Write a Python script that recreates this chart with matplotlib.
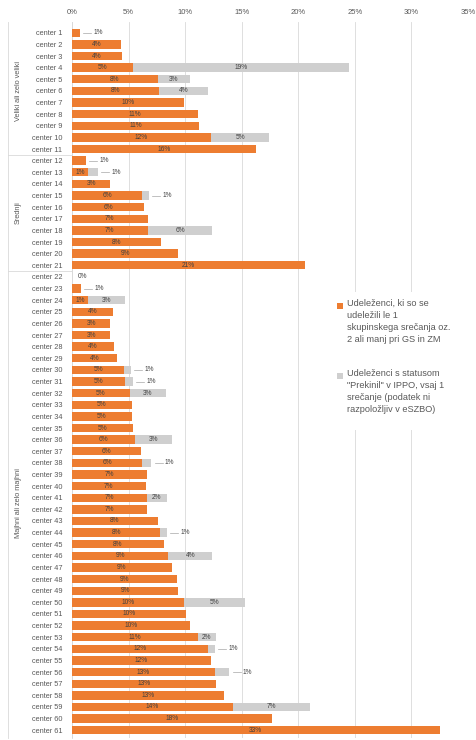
import numpy as np
import matplotlib
matplotlib.use('Agg')
import matplotlib.pyplot as plt
from matplotlib.patches import Rectangle

plt.rcParams['font.family'] = ['Liberation Sans', 'DejaVu Sans']

# podatki (odstotki), vrstni red od zgoraj navzdol
centers = [f'center {i}' for i in range(1, 62)]

udelezenci_le1 = [
    0.7, 4.3, 4.4, 5.4, 7.6, 7.7, 9.9, 11.1, 11.2, 12.3, 16.3,          # 1-11
    1.2, 1.4, 3.4, 6.2, 6.4, 6.7, 6.7, 7.9, 9.4, 20.6,                  # 12-21
    0.0, 0.8, 1.4, 3.6, 3.4, 3.4, 3.7, 4.0, 4.6, 4.7,                   # 22-31
    5.1, 5.3, 5.3, 5.4, 5.6, 6.1, 6.2, 6.6, 6.5, 6.6,                   # 32-41
    6.6, 7.6, 7.8, 8.1, 8.5, 8.8, 9.3, 9.4, 9.9, 10.1,                  # 42-51
    10.4, 11.1, 12.0, 12.3, 12.6, 12.7, 13.4, 14.2, 17.7, 32.5,         # 52-61
]

prekinil = [
    0, 0, 0, 19.1, 2.8, 4.3, 0, 0, 0, 5.1, 0,
    0, 0.9, 0, 0.6, 0, 0, 5.7, 0, 0, 0,
    0, 0, 3.3, 0, 0, 0, 0, 0, 0.6, 0.7,
    3.2, 0, 0, 0, 3.2, 0, 0.8, 0, 0, 1.8,
    0, 0, 0.6, 0, 3.9, 0, 0, 0, 5.4, 0,
    0, 1.6, 0.6, 0, 1.3, 0, 0, 6.8, 0, 0,
]

skupine = ['Veliki ali zelo veliki', 'Srednji', 'Majhni ali zelo majhni']
skupine_meje = [(0, 10), (11, 20), (21, 60)]

legend_labels = [
    'Udeleženci, ki so se\nudeležili le 1\nskupinskega srečanja oz.\n2 ali manj pri GS in ZM',
    'Udeleženci s statusom\n"Prekinil" v IPPO, vsaj 1\nsrečanje (podatek ni\nrazpoložljiv v eSZBO)',
]

ORANGE = '#ED7D31'
GRAY = '#CFCFCF'
TXT = '#595959'
W, H = 476, 740


def pct(v):
    return f'{int(v + 0.5)}%'


fig = plt.figure(figsize=(W / 100, H / 100), dpi=100)
ax = fig.add_axes([72 / W, 2 / H, (468 - 72) / W, (738 - 22) / H])

y = np.arange(len(centers))
a = np.array(udelezenci_le1)
b = np.array(prekinil)

ax.barh(y, a, height=0.72, color=ORANGE, zorder=3)
ax.barh(y, b, left=a, height=0.72, color=GRAY, zorder=3)

# oznake vrednosti
for i in range(len(centers)):
    if a[i] >= 1.3:
        ax.text(a[i] / 2, i, pct(a[i]), ha='center', va='center',
                fontsize=4.8, color='#404040', zorder=4)
    elif a[i] == 0:
        ax.text(0.5, i, pct(a[i]), ha='left', va='center',
                fontsize=4.8, color='#404040', zorder=4)
    else:
        ax.plot([a[i] + 0.3, a[i] + 1.0], [i, i], color='#A6A6A6', lw=0.5, zorder=4)
        ax.text(a[i] + 1.2, i, pct(a[i]), ha='left', va='center',
                fontsize=4.8, color='#404040', zorder=4)
    if b[i] > 0:
        end = a[i] + b[i]
        if b[i] >= 1.5:
            ax.text(a[i] + b[i] / 2, i, pct(b[i]), ha='center', va='center',
                    fontsize=4.8, color='#404040', zorder=4)
        else:
            ax.plot([end + 0.3, end + 1.0], [i, i], color='#A6A6A6', lw=0.5, zorder=4)
            ax.text(end + 1.2, i, pct(b[i]), ha='left', va='center',
                    fontsize=4.8, color='#404040', zorder=4)

ax.set_xlim(0, 35)
ax.set_ylim(60.67, -0.93)
ax.set_xticks(np.arange(0, 36, 5))
ax.set_xticklabels([f'{t}%' for t in range(0, 36, 5)])
ax.xaxis.tick_top()
ax.tick_params(axis='x', length=0, labelsize=5.5, labelcolor=TXT, pad=4)
ax.set_yticks(y)
ax.set_yticklabels(centers)
ax.tick_params(axis='y', length=0, labelsize=5.3, labelcolor=TXT, pad=7)
ax.grid(axis='x', color='#D9D9D9', lw=0.6, zorder=0)
for s in ['top', 'right', 'bottom']:
    ax.spines[s].set_visible(False)
ax.spines['left'].set_color('#D9D9D9')
ax.spines['left'].set_linewidth(0.6)

# skupine na levi strani
x_line = (8 - 72) / 396
ax.plot([x_line, x_line], [-0.93, 60.67], color='#D9D9D9', lw=0.6,
        transform=ax.get_yaxis_transform(), clip_on=False)
for (lo, hi), name in zip(skupine_meje, skupine):
    ax.text((18 - 72) / 396, (lo + hi) / 2, name, rotation=90, ha='center', va='center',
            fontsize=5.3, color=TXT, transform=ax.get_yaxis_transform())
    if lo > 0:
        ax.plot([x_line, 0], [lo - 0.5, lo - 0.5], color='#D9D9D9', lw=0.6,
                transform=ax.get_yaxis_transform(), clip_on=False)

# legenda (ročno, da je kvadratek poravnan s prvo vrstico)
fig.add_artist(Rectangle((333 / W, 1 - 430 / H), 128 / W, 138 / H, facecolor='white',
                         edgecolor='none', transform=fig.transFigure, zorder=5))
for k, (lab, col) in enumerate(zip(legend_labels, [ORANGE, GRAY])):
    top = 299 + k * 70
    fig.add_artist(Rectangle((337 / W, 1 - (top + 10) / H), 6 / W, 6 / H, facecolor=col,
                             edgecolor='none', transform=fig.transFigure, zorder=6))
    fig.text(347 / W, 1 - top / H, lab, ha='left', va='top', fontsize=6.6,
             color=TXT, linespacing=1.45, zorder=6)

fig.savefig('out.png', dpi=100)
